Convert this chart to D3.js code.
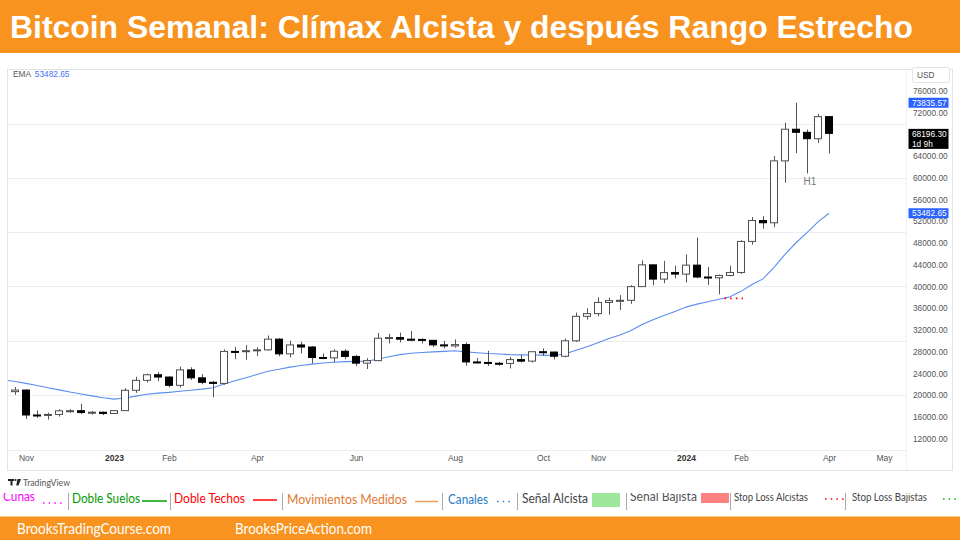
<!DOCTYPE html>
<html><head><meta charset="utf-8">
<script src="https://cdn.jsdelivr.net/npm/d3@7"></script>
<style>body{margin:0;background:#fff}svg{display:block}</style>
</head><body>
<svg id="c" width="960" height="540"></svg>
<script>
// ---------- DATA ----------
const weeks = ["2022-10-24","2022-10-31","2022-11-07","2022-11-14","2022-11-21","2022-11-28","2022-12-05","2022-12-12","2022-12-19","2022-12-26",
"2023-01-02","2023-01-09","2023-01-16","2023-01-23","2023-01-30","2023-02-06","2023-02-13","2023-02-20","2023-02-27","2023-03-06",
"2023-03-13","2023-03-20","2023-03-27","2023-04-03","2023-04-10","2023-04-17","2023-04-24","2023-05-01","2023-05-08","2023-05-15",
"2023-05-22","2023-05-29","2023-06-05","2023-06-12","2023-06-19","2023-06-26","2023-07-03","2023-07-10","2023-07-17","2023-07-24",
"2023-07-31","2023-08-07","2023-08-14","2023-08-21","2023-08-28","2023-09-04","2023-09-11","2023-09-18","2023-09-25","2023-10-02",
"2023-10-09","2023-10-16","2023-10-23","2023-10-30","2023-11-06","2023-11-13","2023-11-20","2023-11-27","2023-12-04","2023-12-11",
"2023-12-18","2023-12-25","2024-01-01","2024-01-08","2024-01-15","2024-01-22","2024-01-29","2024-02-05","2024-02-12","2024-02-19",
"2024-02-26","2024-03-04","2024-03-11","2024-03-18","2024-03-25","2024-04-01"];
const open  = [19570,20630,20920,16330,16280,16430,17100,17120,16780,16840,
16610,17130,20880,22710,23740,23320,21790,24640,23170,22350,
22150,28040,27990,28170,28330,30300,27590,29230,28850,26920,
26850,28070,27110,25880,26340,30470,30590,30290,30250,30080,
29240,29050,29300,26100,26010,25860,25830,26530,26250,27980,
27920,27150,29990,34500,35000,37050,37400,37450,39970,43980,
41360,42560,42280,43930,41740,41600,42030,42580,48300,52140,
51730,63130,68960,68390,67210,71280];
const high  = [21085,21470,21050,17190,16750,17400,17420,18390,17060,16950,
17180,21260,23370,23950,24250,23440,25250,25120,23880,22600,
28400,28870,29200,28800,30970,30500,30000,29820,29000,27650,
28450,28440,27400,26800,31430,31300,31500,31800,30400,30100,
30000,30250,29680,26800,28150,26120,27000,27400,27300,28600,
28000,30400,35200,35980,38000,37950,38400,40230,44800,44000,
44700,43800,45900,49000,43600,42200,43850,48500,52800,52950,
64000,70170,73835.57,68900,71770,71300];
const low   = [19250,20050,15600,15815,15480,16030,16750,16530,16400,16330,
16530,17120,20400,22300,22550,21450,21400,22800,21970,19570,
21900,26600,26500,27200,28170,27150,26940,27680,25800,26600,
26100,26600,25350,24800,26250,29500,29700,29950,29500,28850,
28600,28750,25400,25800,25350,25400,24900,26000,25990,27200,
26550,26950,29800,33900,34500,34800,35650,36800,39900,40200,
40600,41500,40750,41500,40300,38550,41880,42300,47700,50650,
50900,59100,64550,60800,66400,64500];
const close = [20630,20920,16330,16280,16430,17100,17120,16780,16840,16610,
17130,20880,22710,23740,23320,21790,24640,23170,22350,22150,
28040,27990,28170,28330,30300,27590,29230,28850,26920,26850,
28070,27110,25880,26340,30470,30590,30290,30250,30080,29240,
29050,29300,26100,26010,25860,25830,26530,26250,27980,27920,
27150,29990,34500,35000,37050,37400,37450,39970,43980,41360,
42560,42280,43930,41740,41600,42030,42580,48300,52140,51730,
63130,68960,68390,67210,71280,68196.30];
const ema   = [22800,22500,22150,21750,21350,20950,20550,20200,19850,19500,
19250,19450,19800,20150,20350,20500,20700,20900,21100,21350,
22050,22650,23200,23800,24400,24750,25150,25450,25700,25900,
26050,26150,26200,26230,26650,27050,27450,27700,27850,27950,
28050,28150,27950,27800,27650,27550,27450,27400,27380,27350,
27300,27550,28250,28900,29650,30400,31050,31900,33000,33850,
34650,35400,36200,36750,37200,37650,38100,39100,40350,41400,
43500,45900,48050,49900,51900,53482.65];
const priceTicks = [12000,16000,20000,24000,28000,32000,36000,40000,44000,48000,52000,56000,60000,64000,68000,72000,76000];
const gridPrices = [20000,30000,40000,50000,60000,70000];
const timeTicks = ["2022-11-07","2023-01-02","2023-02-06","2023-04-03","2023-06-05","2023-08-07","2023-10-02","2023-11-06","2024-01-01","2024-02-05","2024-04-01","2024-05-06"];
const timeLabels = ["Nov","2023","Feb","Apr","Jun","Aug","Oct","Nov","2024","Feb","Apr","May"];
const yearLabels = ["2023","2024"];
const stopLoss = {price: 37800, from: "2024-01-22", to: "2024-02-05"};
const h1Label = {text: "H1", week: "2024-03-18", price: 58700};
const lastPrice = 68196.30, lastHigh = 73835.57, emaLast = 53482.65;

// ---------- SCALES ----------
const parse = d3.utcParse("%Y-%m-%d");
const svg = d3.select("#c");
const x = d3.scaleUtc().domain([parse("2022-11-07"), parse("2024-04-01")]).range([26, 829]);
const y = d3.scaleLinear().domain([12000, 76000]).range([438.5, 91]);
const PL = 7.5, PR = 906, PT = 69.5, PB = 450;

// ---------- HEADER / FOOTER ----------
const orange = "#F7931E";
svg.append("rect").attr("x",0).attr("y",0).attr("width",960).attr("height",53).attr("fill",orange);
svg.append("text").attr("x",10).attr("y",37.5).attr("fill","#fff")
  .style("font-family","'Liberation Sans', Arial, sans-serif").style("font-weight","bold").style("font-size","32px")
  .attr("textLength",903).attr("lengthAdjust","spacingAndGlyphs")
  .text("Bitcoin Semanal: Clímax Alcista y después Rango Estrecho");
svg.append("rect").attr("x",0).attr("y",516.5).attr("width",960).attr("height",24).attr("fill",orange);
const foot = svg.append("g").attr("fill","#fff").style("font-family","Lato, 'Open Sans', sans-serif").style("font-size","14.5px");
foot.append("text").attr("x",17).attr("y",534).attr("textLength",154).attr("lengthAdjust","spacingAndGlyphs").text("BrooksTradingCourse.com");
foot.append("text").attr("x",235).attr("y",534).attr("textLength",137).attr("lengthAdjust","spacingAndGlyphs").text("BrooksPriceAction.com");

// ---------- PANEL ----------
const border = "#e0e3eb";
svg.append("rect").attr("x",PL).attr("y",PT).attr("width",952.5-PL).attr("height",470.5-PT)
  .attr("fill","#fff").attr("stroke",border).attr("stroke-width",1);
svg.append("line").attr("x1",PR+0.5).attr("x2",PR+0.5).attr("y1",PT).attr("y2",470.5).attr("stroke","#f0f1f4");

// grid
svg.append("g").selectAll("line").data(gridPrices).join("line")
  .attr("x1",PL).attr("x2",PR).attr("y1",d=>Math.round(y(d))+0.5).attr("y2",d=>Math.round(y(d))+0.5)
  .attr("stroke","#ebedf1").attr("stroke-width",1);
svg.append("line").attr("x1",PL).attr("x2",PR).attr("y1",PB+0.5).attr("y2",PB+0.5).attr("stroke","#ebedf1");

// clip
svg.append("defs").append("clipPath").attr("id","plot").append("rect")
  .attr("x",PL+0.5).attr("y",PT+0.5).attr("width",PR-PL-0.5).attr("height",PB-PT-0.5);
svg.select("defs").append("clipPath").attr("id","leg").append("rect")
  .attr("x",0).attr("y",493).attr("width",960).attr("height",23);

const plot = svg.append("g").attr("clip-path","url(#plot)");
const data = weeks.map((w,i)=>({d:parse(w),o:open[i],h:high[i],l:low[i],c:close[i],e:ema[i]}));

// EMA
plot.append("path").datum(data).attr("fill","none").attr("stroke","#5b8def").attr("stroke-width",1.1)
  .attr("d", d3.line().x(d=>x(d.d)).y(d=>y(d.e)));

// candles
const cg = plot.append("g");
data.forEach(d=>{
  const cx = Math.round(x(d.d)) + 0.5;
  const up = d.c >= d.o;
  cg.append("line").attr("x1",cx).attr("x2",cx).attr("y1",y(d.h)).attr("y2",y(d.l))
    .attr("stroke","#555").attr("stroke-width",1);
  const top = y(Math.max(d.o,d.c)), bot = y(Math.min(d.o,d.c));
  const h = Math.max(bot-top, 1);
  cg.append("rect").attr("x",cx-4).attr("y",top).attr("width",7).attr("height",h)
    .attr("fill", up ? "#fff" : "#000").attr("stroke", up ? "#4d4d4d" : "#000").attr("stroke-width",1);
});

// stop loss dots
plot.append("line").attr("x1",x(parse(stopLoss.from))+5.5).attr("x2",x(parse(stopLoss.to))+2)
  .attr("y1",y(stopLoss.price)).attr("y2",y(stopLoss.price))
  .attr("stroke","#ff0000").attr("stroke-width",1.6).attr("stroke-dasharray","1.6,4.1");

// H1
plot.append("text").attr("x",x(parse(h1Label.week))+3).attr("y",y(h1Label.price)).attr("text-anchor","middle")
  .attr("fill","#777").style("font-family","'Liberation Sans', Arial, sans-serif").style("font-size","10px").text(h1Label.text);

// EMA legend
const el = svg.append("text").attr("x",13).attr("y",77).style("font-family","'Liberation Sans', Arial, sans-serif").style("font-size","8.3px");
el.append("tspan").attr("fill","#555").text("EMA ");
el.append("tspan").attr("fill","#4a72f5").attr("dx",2).text(d3.format(".2f")(emaLast));

// ---------- PRICE AXIS ----------
const pa = svg.append("g").attr("transform","translate(911,0)")
  .call(d3.axisRight(y).tickValues(priceTicks).tickFormat(d3.format(".2f")).tickSize(0).tickPadding(2));
pa.select(".domain").remove();
pa.selectAll("text").attr("fill","#555").style("font-family","'Liberation Sans', Arial, sans-serif").style("font-size","8.3px");

// USD box
svg.append("rect").attr("x",912.5).attr("y",67.5).attr("width",37).attr("height",15).attr("rx",2)
  .attr("fill","#fff").attr("stroke",border);
svg.append("text").attr("x",917).attr("y",78).attr("fill","#555")
  .style("font-family","'Liberation Sans', Arial, sans-serif").style("font-size","8.3px").text("USD");

// badges
function badge(price, fill, lines){
  const cy = y(price);
  const hh = lines.length === 1 ? 10 : 20;
  const top = lines.length === 1 ? cy - 5 : cy - 4.5;
  svg.append("rect").attr("x",908.5).attr("y",top).attr("width",40).attr("height",hh).attr("fill",fill);
  lines.forEach((t,k)=>{
    svg.append("text").attr("x",912).attr("y",top+8+k*10).attr("fill","#fff")
      .style("font-family","'Liberation Sans', Arial, sans-serif").style("font-size","8.3px").text(t);
  });
}
badge(lastHigh, "#2962ff", [d3.format(".2f")(lastHigh)]);
badge(lastPrice, "#000", [d3.format(".2f")(lastPrice), "1d 9h"]);
badge(emaLast, "#2962ff", [d3.format(".2f")(emaLast)]);

// ---------- TIME AXIS ----------
const ta = svg.append("g").attr("transform","translate(0,455)")
  .call(d3.axisBottom(x).tickValues(timeTicks.map(parse)).tickFormat((d,i)=>timeLabels[i]).tickSize(0).tickPadding(0));
ta.select(".domain").remove();
ta.selectAll("text").attr("dy","0.71em")
  .style("font-family","'Liberation Sans', Arial, sans-serif").style("font-size","8.5px")
  .style("font-weight",(d,i)=>yearLabels.includes(timeLabels[i]) ? "bold" : "normal")
  .attr("fill",(d,i)=>yearLabels.includes(timeLabels[i]) ? "#333" : "#555");

// TradingView mark
const tv = svg.append("g").attr("fill","#222");
tv.append("rect").attr("x",8).attr("y",479).attr("width",6).attr("height",2);
tv.append("rect").attr("x",10.5).attr("y",479).attr("width",2).attr("height",6.5);
tv.append("circle").attr("cx",15.5).attr("cy",480).attr("r",1.1);
tv.append("path").attr("d","M17.5,479 L21,479 L18.5,485.5 L16.2,485.5 Z");
svg.append("text").attr("x",23).attr("y",485.5).attr("fill","#555")
  .style("font-family","Lato, 'Open Sans', sans-serif").style("font-size","9px")
  .attr("textLength",47).attr("lengthAdjust","spacingAndGlyphs").text("TradingView");

// ---------- LEGEND ----------
const lg = svg.append("g").attr("clip-path","url(#leg)").style("font-family","Lato, 'Open Sans', sans-serif");
const legTexts = [
  {t:"Cuñas", x:3, y:500.5, w:32, c:"#ff00ff", s:13.5},
  {t:"Doble Suelos", x:72, y:503, w:68, c:"#009a00", s:13.5},
  {t:"Doble Techos", x:174, y:503, w:71, c:"#ff0000", s:13.5},
  {t:"Movimientos Medidos", x:287, y:503.5, w:120, c:"#e2782f", s:13.5},
  {t:"Canales", x:448, y:503.5, w:40, c:"#2a7bc8", s:13.5},
  {t:"Señal Alcista", x:522, y:503, w:66, c:"#444", s:13.5},
  {t:"Señal Bajista", x:630, y:500.5, w:67, c:"#555", s:13.5},
  {t:"Stop Loss Alcistas", x:734, y:500.5, w:74, c:"#444", s:10.5},
  {t:"Stop Loss Bajistas", x:852, y:500.5, w:75, c:"#444", s:10.5}
];
legTexts.forEach(d=>{
  lg.append("text").attr("x",d.x).attr("y",d.y).attr("fill",d.c).style("font-size",d.s+"px")
    .attr("textLength",d.w).attr("lengthAdjust","spacingAndGlyphs").text(d.t);
});
[68,170,282,442,517,626,730,845].forEach(sx=>{
  lg.append("line").attr("x1",sx+0.5).attr("x2",sx+0.5).attr("y1",493).attr("y2",510).attr("stroke","#aaa");
});
function dots(x1,x2,yy,c){ lg.append("line").attr("x1",x1).attr("x2",x2).attr("y1",yy).attr("y2",yy)
  .attr("stroke",c).attr("stroke-width",1.5).attr("stroke-dasharray","1.5,4.2"); }
function solid(x1,x2,yy,c){ lg.append("line").attr("x1",x1).attr("x2",x2).attr("y1",yy).attr("y2",yy)
  .attr("stroke",c).attr("stroke-width",1.5); }
dots(43,63,503,"#ff00ff");
solid(142,167,501,"#00a000");
solid(253,277,500,"#ff0000");
solid(415,438,501.5,"#f0a060");
dots(497,514,501.5,"#2a7bc8");
lg.append("rect").attr("x",592).attr("y",493).attr("width",28).attr("height",14).attr("fill","#9de69a");
lg.append("rect").attr("x",701).attr("y",493).attr("width",28).attr("height",10).attr("fill","#ff8080");
dots(825,844,499,"#ff0000");
dots(943,958,499,"#00b000");
</script>
</body></html>
